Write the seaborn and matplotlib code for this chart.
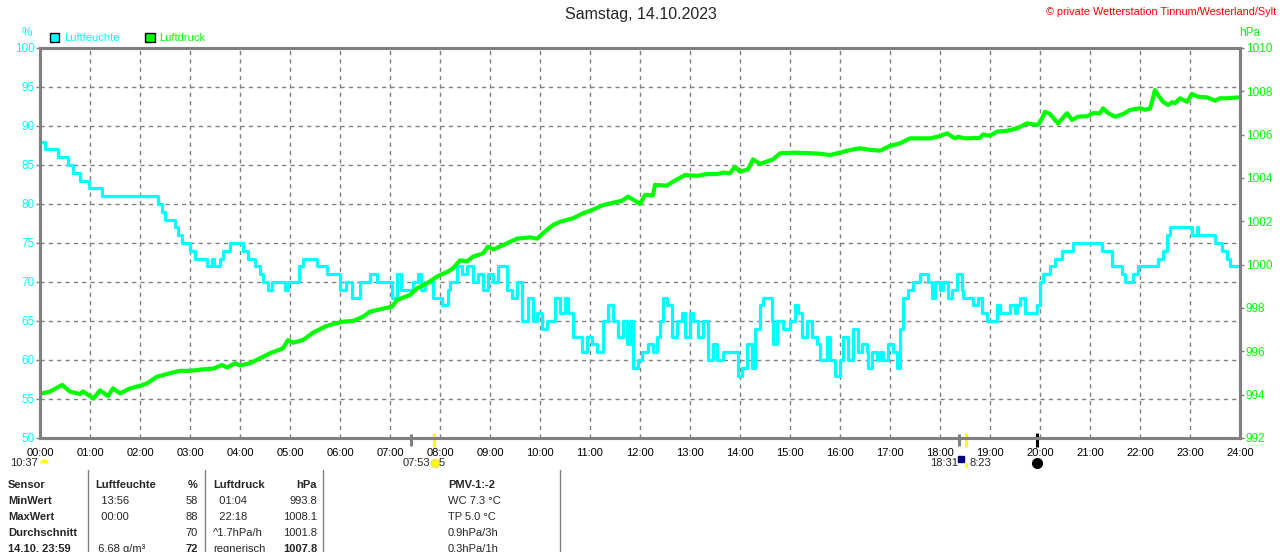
import matplotlib
matplotlib.use("Agg")
import matplotlib.pyplot as plt
import seaborn as sns
from matplotlib.lines import Line2D
from matplotlib.patches import Patch

# Luftfeuchte (%), Stunden seit Mitternacht
hum_hours = [0.00, 0.10, 0.36, 0.56, 0.66, 0.80, 0.98, 1.24, 2.36, 2.44, 2.50, 2.70, 2.76, 2.84,
             3.00, 3.10, 3.34, 3.44, 3.48, 3.60, 3.66, 3.80, 4.06, 4.16, 4.30, 4.40, 4.46, 4.56,
             4.64, 4.90, 4.96, 5.18, 5.26, 5.54, 5.74, 6.00, 6.12, 6.24, 6.40, 6.60, 6.74, 7.04,
             7.14, 7.22, 7.46, 7.56, 7.62, 7.70, 7.86, 8.04, 8.16, 8.20, 8.34, 8.44, 8.54, 8.66,
             8.76, 8.86, 8.96, 9.06, 9.16, 9.34, 9.44, 9.54, 9.64, 9.76, 9.86, 9.94, 10.04, 10.14,
             10.30, 10.40, 10.50, 10.56, 10.66, 10.84, 10.94, 11.04, 11.14, 11.26, 11.36, 11.46,
             11.56, 11.66, 11.74, 11.80, 11.86, 11.96, 12.04, 12.16, 12.26, 12.34, 12.40, 12.46,
             12.54, 12.64, 12.74, 12.84, 12.90, 13.00, 13.06, 13.16, 13.26, 13.36, 13.46, 13.54,
             13.66, 13.96, 14.04, 14.14, 14.24, 14.30, 14.40, 14.46, 14.64, 14.66, 14.74, 14.86,
             15.00, 15.10, 15.16, 15.24, 15.34, 15.44, 15.54, 15.60, 15.74, 15.80, 15.90, 16.00,
             16.06, 16.16, 16.26, 16.36, 16.44, 16.54, 16.56, 16.64, 16.74, 16.80, 16.86, 16.96,
             17.06, 17.14, 17.20, 17.26, 17.36, 17.46, 17.60, 17.76, 17.84, 17.90, 18.00, 18.06,
             18.16, 18.24, 18.34, 18.44, 18.46, 18.66, 18.76, 18.84, 18.94, 19.14, 19.20, 19.40,
             19.50, 19.54, 19.60, 19.70, 19.94, 20.00, 20.06, 20.20, 20.30, 20.44, 20.66, 21.24,
             21.44, 21.64, 21.70, 21.86, 21.96, 22.36, 22.46, 22.54, 22.60, 23.04, 23.14, 23.16,
             23.50, 23.64, 23.74, 23.80, 24.00]
hum_values = [88, 87, 86, 85, 84, 83, 82, 81, 80, 79, 78, 77, 76, 75,
              74, 73, 72, 73, 72, 73, 74, 75, 74, 73, 72, 71, 70, 69,
              70, 69, 70, 72, 73, 72, 71, 69, 70, 68, 70, 71, 70, 68,
              71, 69, 70, 71, 69, 70, 68, 67, 69, 70, 72, 71, 72, 70,
              71, 69, 71, 70, 72, 69, 68, 70, 65, 68, 65, 66, 64, 65,
              68, 66, 68, 66, 63, 61, 63, 62, 61, 65, 67, 65,
              63, 65, 62, 65, 59, 60, 61, 62, 61, 63, 65, 68,
              67, 63, 65, 66, 63, 66, 65, 63, 65, 60, 62, 60,
              61, 58, 59, 62, 59, 64, 67, 68, 65, 62, 65, 64,
              65, 67, 66, 63, 65, 63, 62, 60, 63, 60, 58, 60,
              63, 60, 64, 61, 62, 61, 59, 61, 60, 61, 60, 62,
              61, 59, 64, 68, 69, 70, 71, 70, 68, 70, 69, 70,
              68, 69, 71, 69, 68, 67, 68, 66, 65, 67, 66, 67,
              66, 67, 68, 66, 67, 70, 71, 72, 73, 74, 75, 74,
              72, 71, 70, 71, 72, 73, 74, 76, 77, 76, 77, 76,
              75, 74, 73, 72, 72]

# Luftdruck (hPa)
pres_hours = [0.04, 0.20, 0.44, 0.60, 0.80, 0.86, 1.07, 1.20, 1.36, 1.46, 1.60, 1.80, 2.00, 2.14,
              2.34, 2.60, 2.80, 3.00, 3.26, 3.46, 3.64, 3.74, 3.90, 4.00, 4.20, 4.40, 4.60, 4.86,
              4.96, 5.06, 5.26, 5.46, 5.70, 5.86, 6.06, 6.26, 6.46, 6.60, 6.80, 7.04, 7.14, 7.40,
              7.54, 7.74, 7.94, 8.00, 8.16, 8.26, 8.40, 8.54, 8.66, 8.86, 8.96, 9.06, 9.26, 9.54,
              9.80, 9.94, 10.06, 10.26, 10.40, 10.66, 10.86, 11.04, 11.26, 11.54, 11.64, 11.76,
              11.90, 12.00, 12.10, 12.26, 12.30, 12.54, 12.66, 12.90, 13.14, 13.34, 13.54, 13.66,
              13.80, 13.90, 14.00, 14.16, 14.26, 14.40, 14.66, 14.80, 15.06, 15.34, 15.60, 15.80,
              16.00, 16.20, 16.40, 16.60, 16.80, 17.00, 17.20, 17.40, 17.60, 17.80, 17.94, 18.14,
              18.30, 18.36, 18.50, 18.80, 18.86, 19.00, 19.14, 19.34, 19.54, 19.74, 19.96, 20.04,
              20.10, 20.20, 20.36, 20.54, 20.64, 20.76, 20.94, 21.06, 21.20, 21.26, 21.36, 21.50,
              21.66, 21.80, 22.00, 22.10, 22.20, 22.24, 22.30, 22.36, 22.46, 22.56, 22.64, 22.70,
              22.80, 22.94, 23.04, 23.16, 23.34, 23.50, 23.60, 23.74, 23.96]
pres_values = [994.06, 994.14, 994.45, 994.14, 994.03, 994.15, 993.82, 994.20, 993.93, 994.29,
               994.06, 994.29, 994.41, 994.52, 994.83, 994.99, 995.10, 995.10, 995.17, 995.20,
               995.37, 995.25, 995.45, 995.35, 995.45, 995.68, 995.91, 996.14, 996.52, 996.40,
               996.52, 996.86, 997.14, 997.26, 997.37, 997.40, 997.60, 997.83, 997.94, 998.06,
               998.37, 998.60, 998.91, 999.14, 999.45, 999.52, 999.68, 999.83, 1000.20, 1000.15,
               1000.37, 1000.52, 1000.83, 1000.70, 1000.90, 1001.20, 1001.26, 1001.20, 1001.45,
               1001.83, 1001.98, 1002.14, 1002.37, 1002.52, 1002.75, 1002.90, 1002.95, 1003.14,
               1002.95, 1002.80, 1003.22, 1003.20, 1003.68, 1003.65, 1003.83, 1004.14, 1004.10,
               1004.18, 1004.18, 1004.25, 1004.22, 1004.52, 1004.29, 1004.40, 1004.86, 1004.65,
               1004.86, 1005.14, 1005.17, 1005.15, 1005.12, 1005.06, 1005.17, 1005.29, 1005.37,
               1005.30, 1005.26, 1005.48, 1005.60, 1005.83, 1005.83, 1005.83, 1005.90, 1006.06,
               1005.83, 1005.90, 1005.83, 1005.85, 1006.01, 1005.95, 1006.14, 1006.18, 1006.29,
               1006.52, 1006.45, 1006.75, 1007.06, 1006.95, 1006.52, 1006.99, 1006.68, 1006.83,
               1006.85, 1006.99, 1006.99, 1007.22, 1007.00, 1006.83, 1006.95, 1007.14, 1007.22,
               1007.15, 1007.20, 1007.52, 1008.06, 1007.83, 1007.52, 1007.37, 1007.50, 1007.45,
               1007.68, 1007.52, 1007.88, 1007.75, 1007.72, 1007.57, 1007.68, 1007.68, 1007.72]

hour_labels = [f"{h:02d}:00" for h in range(25)]
hum_ticks = list(range(50, 101, 5))
pres_ticks = list(range(992, 1011, 2))

# Tabelle unten
table_rows = [
    ["Sensor", "Luftfeuchte", "%", "Luftdruck", "hPa", "PMV-1:-2"],
    ["MinWert", "  13:56", "58", "  01:04", "993.8", "WC 7.3 °C"],
    ["MaxWert", "  00:00", "88", "  22:18", "1008.1", "TP 5.0 °C"],
    ["Durchschnitt", "", "70", "^1.7hPa/h", "1001.8", "0.9hPa/3h"],
    ["14.10. 23:59", " 6.68 g/m³", "72", "regnerisch", "1007.8", "0.3hPa/1h"],
]

CYAN = "#00FFFF"
GREEN = "#00FF00"
GRAY = "#808080"
W, H = 1280, 552

sns.set_style("white")
plt.rcParams["font.family"] = ["Liberation Sans", "DejaVu Sans"]
plt.rcParams["font.size"] = 8

fig = plt.figure(figsize=(W / 100, H / 100), dpi=100)
ax = fig.add_axes([40 / W, (H - 438) / H, 1200 / W, 390 / H])
ax2 = ax.twinx()

sns.lineplot(x=hum_hours, y=hum_values, ax=ax, color=CYAN, linewidth=2.3,
             drawstyle="steps-post", legend=False)
sns.lineplot(x=pres_hours, y=pres_values, ax=ax2, color=GREEN, linewidth=3.0,
             legend=False)

ax.set_xlim(0, 24)
ax.set_ylim(50, 100)
ax2.set_ylim(992, 1010)
ax.set_xticks(range(25))
ax.set_xticklabels(hour_labels)
ax.set_yticks(hum_ticks)
ax2.set_yticks(pres_ticks)
ax.grid(True, linestyle=(0, (3, 3)), color=GRAY, linewidth=1)
ax.set_axisbelow(True)
ax2.grid(False)

for a in (ax, ax2):
    for sp in a.spines.values():
        sp.set_color(GRAY)
        sp.set_linewidth(2.2)
ax.tick_params(axis="x", colors=GRAY, labelcolor="black", length=3, width=1, pad=4, labelsize=8)
ax.tick_params(axis="y", colors=GRAY, labelcolor=CYAN, length=3, width=1, pad=1, labelsize=8.5)
ax2.tick_params(axis="y", colors=GRAY, labelcolor=GREEN, length=3, width=1, pad=1, labelsize=8.5)
ax.set_xlabel("")
ax.set_ylabel("")
ax2.set_ylabel("")

# Titel und Kopfzeile
fig.text(641 / W, 1 - 15 / H, "Samstag, 14.10.2023", ha="center", va="center", fontsize=11.5)
fig.text(1276 / W, 1 - 12 / H, "© private Wetterstation Tinnum/Westerland/Sylt",
         ha="right", va="center", fontsize=7.8, color="red")
fig.text(27 / W, 1 - 33 / H, "%", ha="center", va="center", color=CYAN, fontsize=8.5)
fig.text(1250 / W, 1 - 33 / H, "hPa", ha="center", va="center", color=GREEN, fontsize=8.5)

handles = [Patch(facecolor=CYAN, edgecolor="black", linewidth=1),
           Patch(facecolor=GREEN, edgecolor="black", linewidth=1)]
leg = fig.legend(handles, ["Luftfeuchte", "Luftdruck"], loc="center left",
                 bbox_to_anchor=(44 / W, 1 - 38 / H), bbox_transform=fig.transFigure,
                 ncol=2, frameon=False, borderpad=0, handlelength=0.85, handleheight=0.85,
                 handletextpad=0.45, columnspacing=2.3, fontsize=8)
for txt, col in zip(leg.get_texts(), [CYAN, GREEN]):
    txt.set_color(col)

# Sonnen-/Mondmarken unter der Zeitachse
xt = ax.get_xaxis_transform()
ax.vlines([7.42, 18.38], -0.02, 0.01, transform=xt, colors=GRAY, linewidth=2.2, clip_on=False)
ax.vlines([7.88, 18.52], -0.022, 0.013, transform=xt, colors="yellow", linewidth=2.2, clip_on=False)
ax.vlines([19.94], -0.022, 0.013, transform=xt, colors="black", linewidth=2.2, clip_on=False)
icon_y = -0.064
ax.plot([0.08], [icon_y], transform=xt, marker="o", markersize=6, color="yellow",
        fillstyle="top", markeredgewidth=0, clip_on=False)
ax.plot([7.90], [icon_y], transform=xt, marker="o", markersize=6, color="yellow",
        markeredgecolor="#f0e060", clip_on=False)
ax.plot([18.42], [icon_y + 0.01], transform=xt, marker="s", markersize=5, color="navy",
        clip_on=False)
ax.plot([18.50], [icon_y - 0.006], transform=xt, marker="o", markersize=4, color="yellow",
        fillstyle="right", markeredgewidth=0, clip_on=False)
ax.plot([19.94], [icon_y], transform=xt, marker="o", markersize=7, color="black", clip_on=False)
fig.text(38 / W, 1 - 463 / H, "10:37", ha="right", va="center")
fig.text(430 / W, 1 - 463 / H, "07:53", ha="right", va="center")
fig.text(439 / W, 1 - 463 / H, "5", ha="left", va="center")
fig.text(958 / W, 1 - 463 / H, "18:31", ha="right", va="center")
fig.text(969 / W, 1 - 463 / H, "8:23", ha="left", va="center")

# Tabelle
for xs in (88, 205, 323, 560):
    fig.add_artist(Line2D([xs / W, xs / W], [0, 1 - 470 / H], transform=fig.transFigure,
                          color=GRAY, linewidth=1))
col_pos = [(8, "left"), (95, "left"), (198, "right"), (213, "left"), (317, "right"), (448, "left")]
for r, row in enumerate(table_rows):
    y = 1 - (485 + 16 * r) / H
    for c, cell in enumerate(row):
        x, ha = col_pos[c]
        bold = r == 0 or c == 0 or (r == 4 and c in (2, 4))
        if r == 0 and c == 5:
            bold = True
        elif c == 5:
            bold = False
        fig.text(x / W, y, cell, ha=ha, va="center", fontsize=8,
                 fontweight="bold" if bold else "normal")

fig.savefig("out.png", dpi=100, facecolor="white")
